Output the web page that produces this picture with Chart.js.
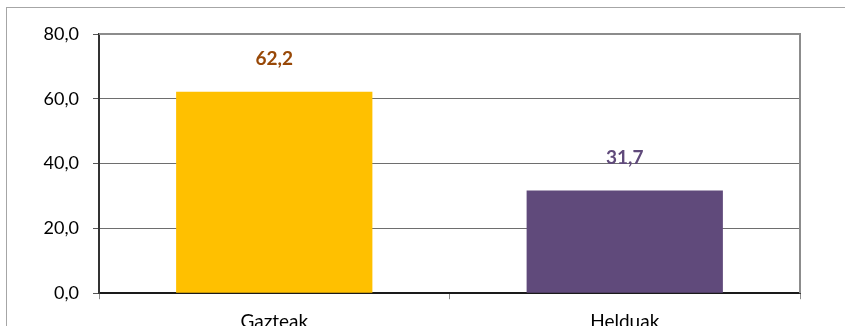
<!DOCTYPE html>
<html>
<head>
<meta charset="utf-8">
<script src="https://cdn.jsdelivr.net/npm/chart.js@4.4.1/dist/chart.umd.min.js"></script>
<style>
  html, body { margin: 0; padding: 0; background: #fff; overflow: hidden; }
  #frame { position: absolute; left: 6px; top: 7px; width: 900px; height: 400px; border: 1px solid #a6a6a6; }
  #wrap { position: absolute; left: 0; top: 0; width: 845px; height: 344px; }
</style>
</head>
<body>
<div id="frame"></div>
<div id="wrap"><canvas id="chart"></canvas></div>
<script>
// chart data
const categories = ['Gazteak', 'Helduak'];
const values = [62.2, 31.7];
const yTicks = [0, 20, 40, 60, 80];

// styles
const barColors = ['#FFC000', '#604A7B'];
const labelColors = ['#984807', '#604A7B'];
const fontFamily = 'Lato, "Open Sans", sans-serif';

function comma(v) {
  return v.toFixed(1).replace('.', ',');
}

// value labels above the bars + grey top/right border of the plot area
const barLabels = {
  id: 'barLabels',
  afterDatasetsDraw(chart) {
    const ctx = chart.ctx;
    const area = chart.chartArea;
    ctx.save();
    ctx.strokeStyle = '#8c8c8c';
    ctx.lineWidth = 2;
    ctx.beginPath();
    ctx.moveTo(area.left, area.top);
    ctx.lineTo(area.right, area.top);
    ctx.lineTo(area.right, area.bottom);
    ctx.stroke();

    const meta = chart.getDatasetMeta(0);
    ctx.font = 'bold 19px ' + fontFamily;
    ctx.textAlign = 'center';
    ctx.textBaseline = 'middle';
    meta.data.forEach(function(bar, i) {
      ctx.fillStyle = labelColors[i];
      ctx.fillText(comma(values[i]), bar.x, bar.y - 33);
    });
    ctx.restore();
  }
};

new Chart(document.getElementById('chart'), {
  type: 'bar',
  data: {
    labels: categories,
    datasets: [{
      data: values,
      backgroundColor: barColors,
      borderWidth: 0,
      barPercentage: 0.56,
      categoryPercentage: 1
    }]
  },
  options: {
    responsive: true,
    maintainAspectRatio: false,
    animation: false,
    layout: { padding: { left: 0, right: 45, top: 34, bottom: 0 } },
    plugins: {
      legend: { display: false },
      tooltip: { enabled: false }
    },
    scales: {
      x: {
        offset: true,
        grid: {
          offset: true,
          drawOnChartArea: false,
          drawTicks: true,
          tickLength: 6,
          color: '#8c8c8c'
        },
        border: { color: '#1a1a1a', width: 2 },
        ticks: {
          color: '#000',
          padding: 11,
          font: { family: fontFamily, size: 19 }
        }
      },
      y: {
        min: yTicks[0],
        max: yTicks[yTicks.length - 1],
        afterFit(scale) { scale.width = 99; },
        afterBuildTicks(scale) { scale.ticks = yTicks.map(v => ({ value: v })); },
        grid: {
          color: '#6e6e6e',
          lineWidth: 1,
          tickLength: 6,
          tickColor: '#555'
        },
        border: { color: '#333', width: 2 },
        ticks: {
          color: '#000',
          padding: 14,
          font: { family: fontFamily, size: 18 },
          callback: v => comma(v)
        }
      }
    }
  },
  plugins: [barLabels]
});
</script>
</body>
</html>
